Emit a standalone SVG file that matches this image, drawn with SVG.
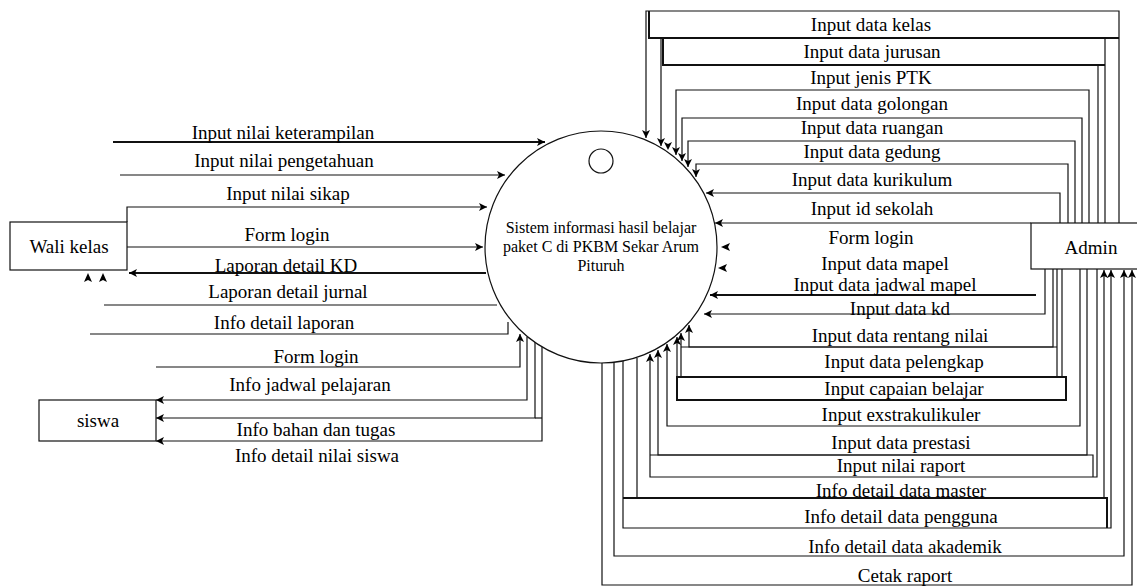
<svg xmlns="http://www.w3.org/2000/svg" width="1137" height="586" viewBox="0 0 1137 586">
<defs>
<marker id="ah" viewBox="0 0 10 10" refX="10" refY="5" markerWidth="8" markerHeight="8" markerUnits="userSpaceOnUse" orient="auto"><path d="M0,0 L10,5 L0,10 L2.5,5 z" fill="#000"/></marker>
<style>
.c{fill:none;stroke:#111;stroke-width:1.2}
.t{stroke-width:2}
.a{marker-end:url(#ah)}
.lbl{font-family:"Liberation Serif","Times New Roman",serif;font-size:19px;fill:#000;text-anchor:middle}
.ctr{font-family:"Liberation Serif","Times New Roman",serif;font-size:16px;fill:#000;text-anchor:middle}
.box{fill:#fff;stroke:#111;stroke-width:1.2}
.ah{fill:#000}
</style>
</defs>
<rect width="1137" height="586" fill="#fff"/>
<g id="connectors">
<path class="c t a" d="M113,142 H545"/>
<path class="c a" d="M120,175 H505"/>
<path class="c a" d="M127,222 V207 H487"/>
<path class="c a" d="M127,247 H483"/>
<path class="c t a" d="M486,273 H129"/>
<path class="c" d="M104,305 H497"/>
<path class="c" d="M90,334 H508 V322"/>
<path class="c a" d="M156,367 H520 V334"/>
<path class="c a" d="M527,337 V400 H156"/>
<path class="c a" d="M535,342 V418 H156"/>
<path class="c" d="M535,418 H542"/>
<path class="c a" d="M542,347 V441 H156"/>
<polygon class="ah" points="88,273 84,282 88,280 92,282"/>
<polygon class="ah" points="103,273 99,282 103,280 107,282"/>
<path class="c a" d="M1119,223 V11 H646 V138"/>
<path class="c t" d="M649,11 V38 H1119"/>
<path class="c a" d="M1105,223 V38 H661 V146"/>
<path class="c t" d="M663,38 V65 H1105"/>
<path class="c" d="M1098,223 V65"/>
<polygon class="ah" points="668,150 664,142 668,144 672,142"/>
<path class="c a" d="M1089,223 V90 H676 V155"/>
<path class="c a" d="M1082,223 V118 H682 V161"/>
<path class="c a" d="M1075,223 V141 H688 V167"/>
<path class="c a" d="M1068,223 V164 H696 V177"/>
<path class="c a" d="M1060,223 V193 H706"/>
<path class="c a" d="M1031,223 H715"/>
<polygon class="ah" points="721,247 730,243 728,247 730,251"/>
<polygon class="ah" points="718,268 727,264 725,268 727,272"/>
<path class="c t a" d="M1036,295 H710"/>
<path class="c a" d="M1045,269 V314 H704"/>
<path class="c a" d="M1053,269 V347 H689 V325"/>
<path class="c a" d="M1057,269 V377 H681 V333"/>
<path class="c" d="M681,347 H1057"/>
<path class="c" d="M1062,269 V377"/>
<rect x="677" y="377" width="389" height="23" fill="none" stroke="#111" stroke-width="2"/>
<path class="c a" d="M677,400 V337"/>
<path class="c a" d="M1080,269 V426 H667 V344"/>
<path class="c a" d="M1087,269 V455 H658 V350"/>
<path class="c a" d="M1097,269 V477 H650 V354"/>
<path class="c" d="M650,455 H1093 V477"/>
<path class="c a" d="M637,358 V498 H1104 V270"/>
<path class="c a" d="M623,361 V528 H1111 V270"/>
<path class="c t" d="M623,498 H1107 V528"/>
<path class="c a" d="M614,362 V556 H1124 V270"/>
<path class="c a" d="M602,363 V585 H1132 V270"/>
</g>
<g id="system">
<circle cx="601" cy="247" r="116" fill="#fff" stroke="#111" stroke-width="1.2"/>
<circle cx="601" cy="161" r="12" fill="#fff" stroke="#111" stroke-width="1.2"/>
<text class="ctr" x="601" y="233">Sistem informasi hasil belajar</text>
<text class="ctr" x="601" y="252">paket C di PKBM Sekar Arum</text>
<text class="ctr" x="601" y="271">Pituruh</text>
</g>
<g id="wali-kelas">
<rect class="box" x="10" y="222" width="117" height="48"/>
<text class="lbl" x="69" y="253">Wali kelas</text>
</g>
<g id="siswa">
<rect class="box" x="39" y="400" width="117" height="41"/>
<text class="lbl" x="98" y="427">siswa</text>
</g>
<g id="admin">
<rect class="box" x="1031" y="223" width="110" height="46"/>
<text class="lbl" x="1091" y="254">Admin</text>
</g>
<g id="labels">
<text class="lbl" x="283" y="139">Input nilai keterampilan</text>
<text class="lbl" x="284" y="167">Input nilai pengetahuan</text>
<text class="lbl" x="288" y="200">Input nilai sikap</text>
<text class="lbl" x="287" y="241">Form login</text>
<text class="lbl" x="286" y="272">Laporan detail KD</text>
<text class="lbl" x="288" y="298">Laporan detail jurnal</text>
<text class="lbl" x="284" y="329">Info detail laporan</text>
<text class="lbl" x="316" y="363">Form login</text>
<text class="lbl" x="310" y="391">Info jadwal pelajaran</text>
<text class="lbl" x="316" y="436">Info bahan dan tugas</text>
<text class="lbl" x="317" y="462">Info detail nilai siswa</text>
<text class="lbl" x="871" y="31">Input data kelas</text>
<text class="lbl" x="872" y="58">Input data jurusan</text>
<text class="lbl" x="871" y="84">Input jenis PTK</text>
<text class="lbl" x="872" y="110">Input data golongan</text>
<text class="lbl" x="872" y="134">Input data ruangan</text>
<text class="lbl" x="872" y="158">Input data gedung</text>
<text class="lbl" x="872" y="186">Input data kurikulum</text>
<text class="lbl" x="872" y="215">Input id sekolah</text>
<text class="lbl" x="871" y="244">Form login</text>
<text class="lbl" x="885" y="270">Input data mapel</text>
<text class="lbl" x="885" y="291">Input data jadwal mapel</text>
<text class="lbl" x="900" y="315">Input data kd</text>
<text class="lbl" x="900" y="342">Input data rentang nilai</text>
<text class="lbl" x="904" y="368">Input data pelengkap</text>
<text class="lbl" x="904" y="395">Input capaian belajar</text>
<text class="lbl" x="901" y="421">Input exstrakulikuler</text>
<text class="lbl" x="901" y="449">Input data prestasi</text>
<text class="lbl" x="901" y="472">Input nilai raport</text>
<text class="lbl" x="901" y="497">Info detail data master</text>
<text class="lbl" x="901" y="523">Info detail data pengguna</text>
<text class="lbl" x="905" y="553">Info detail data akademik</text>
<text class="lbl" x="905" y="582">Cetak raport</text>
</g>
</svg>
